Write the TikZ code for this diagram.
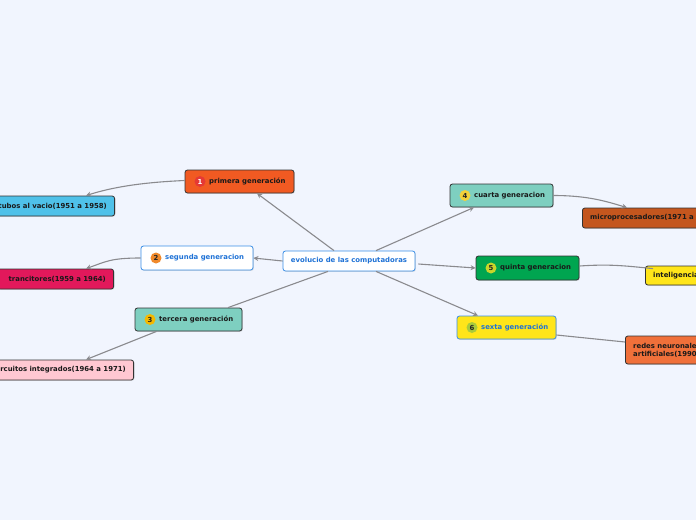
\documentclass[tikz,border=0pt]{standalone}
\usepackage{fontspec}
\setmainfont{DejaVu Sans}
\usetikzlibrary{calc,arrows.meta,shadows}
\definecolor{bgc}{HTML}{F1F5FE}
\definecolor{edgec}{HTML}{8A8A8E}
\definecolor{bluet}{HTML}{1F72D6}
\definecolor{blueb}{HTML}{3A8EE6}
\definecolor{c1}{HTML}{F15A22}
\definecolor{c2}{HTML}{4FC1E9}
\definecolor{c3}{HTML}{E2185B}
\definecolor{c4}{HTML}{7ECFC0}
\definecolor{c5}{HTML}{FFC8D2}
\definecolor{c6}{HTML}{C4561E}
\definecolor{c7}{HTML}{00A550}
\definecolor{c8}{HTML}{FFE51A}
\definecolor{c9}{HTML}{F0703A}
\definecolor{i1}{HTML}{E53935}
\definecolor{i2}{HTML}{F0892B}
\definecolor{i3}{HTML}{F5B800}
\definecolor{i4}{HTML}{F3D23A}
\definecolor{i5}{HTML}{C9D52A}
\definecolor{i6}{HTML}{A9CB3A}
\tikzset{
  box/.style={draw=black!80, line width=0.8pt, rounded corners=2.5pt, inner sep=0pt,
    drop shadow={shadow xshift=0.8pt, shadow yshift=-0.8pt, opacity=0.25}},
  selbox/.style={box, draw=blueb},
  lbl/.style={font=\bfseries\fontsize{6.9}{8}\selectfont, text=black!90, inner sep=0pt, anchor=west},
  bluelbl/.style={lbl, text=bluet},
  ico/.style={circle, inner sep=0pt, minimum size=11pt, font=\bfseries\fontsize{6.9}{7}\selectfont, text=black!85},
  conn/.style={draw=edgec, line width=1.1pt},
  arr/.style={conn, -{Stealth[length=5pt,width=5pt]}},
}
\begin{document}
\begin{tikzpicture}[x=1pt,y=-1pt]
\useasboundingbox (0,0) rectangle (696,520);
\clip (0,0) rectangle (696,520);
\fill[bgc] (0,0) rectangle (696,520);

% central
\node[selbox, fill=white, minimum width=132pt, minimum height=20pt] (c) at (349,261) {};
\node[bluelbl, anchor=center] (ct) at (c.center) {evolucio de las computadoras};

% primera
\node[box, fill=c1, minimum width=109pt, minimum height=23pt] (p1) at (239.5,181.5) {};
\node[ico, fill=i1, text=white] (p1i) at (200,181.5) {1};
\node[lbl] (p1t) at (209,181.5) {primera generación};

% segunda
\node[selbox, fill=white, minimum width=112pt, minimum height=24pt] (p2) at (197,258) {};
\node[ico, fill=i2] (p2i) at (156,258) {2};
\node[bluelbl] (p2t) at (165,258) {segunda generacion};

% tercera
\node[box, fill=c4, minimum width=107pt, minimum height=23pt] (p3) at (188.5,319.5) {};
\node[ico, fill=i3] (p3i) at (150,319.5) {3};
\node[lbl] (p3t) at (159,319.5) {tercera generación};

% cuarta
\node[box, fill=c4, minimum width=103pt, minimum height=23pt] (p4) at (501.5,195.5) {};
\node[ico, fill=i4] (p4i) at (465,195.5) {4};
\node[lbl] (p4t) at (474,195.5) {cuarta generacion};

% quinta
\node[box, fill=c7, minimum width=103pt, minimum height=24pt] (p5) at (527.5,268) {};
\node[ico, fill=i5] (p5i) at (491,268) {5};
\node[lbl] (p5t) at (500,268) {quinta generacion};

% sexta
\node[selbox, fill=c8, minimum width=99pt, minimum height=23pt] (p6) at (506.5,327.5) {};
\node[ico, fill=i6] (p6i) at (472,327.5) {6};
\node[bluelbl] (p6t) at (481,327.5) {sexta generación};

% leaves
\node[box, fill=c2, anchor=east, minimum height=20pt, minimum width=125pt] (l1) at (115,206) {};
\node[lbl, anchor=east] (l1t) at (107,206) {tubos al vacio(1951 a 1958)};

\node[box, fill=c3, anchor=east, minimum height=20pt, minimum width=116pt] (l2) at (114,279) {};
\node[lbl, anchor=east] (l2t) at (106,279) {trancitores(1959 a 1964)};

\node[box, fill=c5, anchor=east, minimum height=20pt, minimum width=150pt] (l3) at (134,370) {};
\node[lbl, anchor=east] (l3t) at (126,370) {circuitos integrados(1964 a 1971)};

\node[box, fill=c6, anchor=west, minimum height=20pt, minimum width=140pt] (l4) at (582,218) {};
\node[lbl] (l4t) at (590,218) {microprocesadores(1971 a 1981)};

\node[box, fill=c8, anchor=west, minimum height=19pt, minimum width=110pt] (l5) at (645,275.5) {};
\node[lbl] (l5t) at (653,275.5) {inteligencia artificial};

\node[box, fill=c9, anchor=west, minimum height=28pt, minimum width=100pt] (l6) at (625,350) {};
\node[lbl, align=left] (l6t) at (633,350) {redes neuronales\\artificiales(1990 a 2000)};

% connectors from central
\draw[arr] ($(c.north)+(-15,0)$) -- ($(p1.south)+(17.5,0)$);
\draw[arr] (c.west) -- (p2.east);
\draw[conn] ($(c.south)+(-21,0)$) -- ($(p3.north)+(39.5,0)$);
\draw[arr] ($(c.north)+(27,0)$) -- ($(p4.south)+(-27.5,0)$);
\draw[arr] ($(c.east)+(3,3)$) -- (p5.west);
\draw[arr] ($(c.south)+(27,0)$) -- ($(p6.north)+(-28.5,0)$);

% connectors to leaves
\draw[arr] ($(p1.west)+(0,-1)$) .. controls +(-45,2) and +(25,-8) .. ($(l1.north east)+(-29,0)$);
\draw[arr] (p2.west) .. controls +(-30,0) and +(20,-7) .. ($(l2.north east)+(-28,0)$);
\draw[arr] ($(p3.south)+(-32,0)$) -- ($(l3.north east)+(-48,0)$);
\draw[arr] (p4.east) .. controls +(35,0) and +(-20,-6) .. ($(l4.north west)+(45,0)$);
\draw[conn] ($(p5.east)+(0,-2)$) .. controls +(30,-2) and +(-30,-3) .. ($(l5.north west)+(8,3)$);
\draw[conn] ($(p6.east)+(0,7.5)$) -- ($(l6.west)+(0,-8)$);
\end{tikzpicture}
\end{document}
